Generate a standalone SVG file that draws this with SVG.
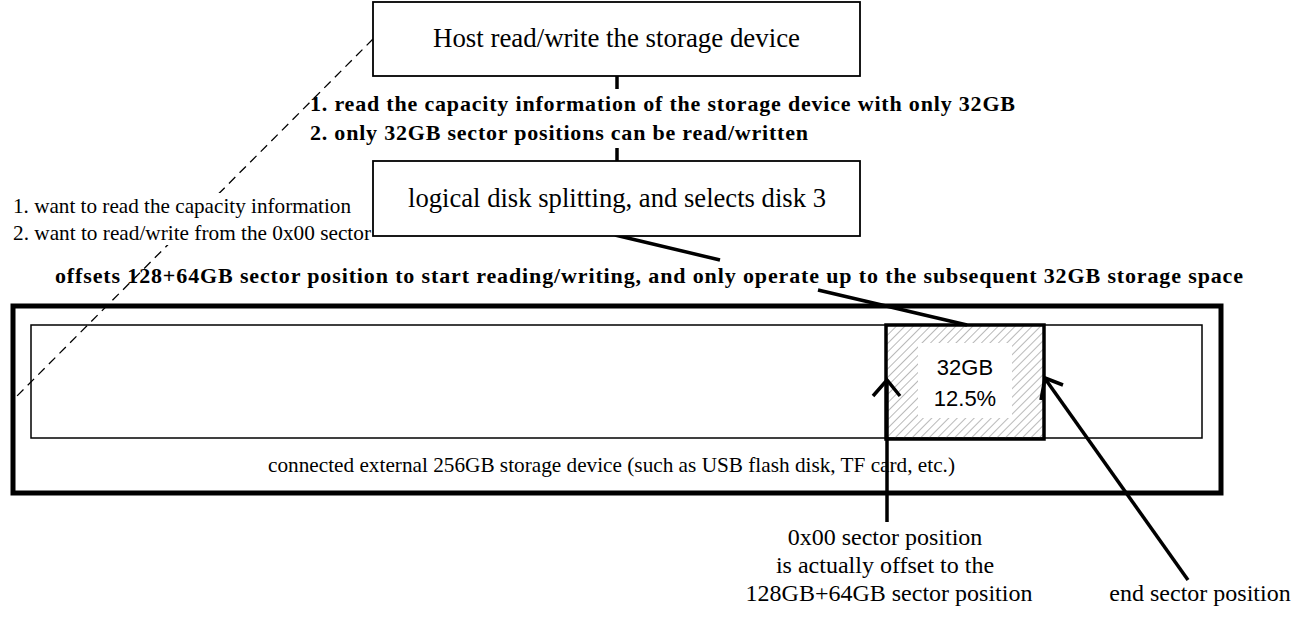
<svg xmlns="http://www.w3.org/2000/svg" width="1303" height="620" viewBox="0 0 1303 620">
<defs>
<pattern id="hatch" width="6" height="6" patternUnits="userSpaceOnUse" patternTransform="rotate(45)">
<line x1="0" y1="0" x2="0" y2="6" stroke="#8a8a8a" stroke-width="1.2"/>
</pattern>
<style>
.box{fill:#fff;stroke:#000;stroke-width:1.8}
.serif{font-family:"Liberation Serif","Times New Roman",serif;fill:#000}
.bold{font-family:"Liberation Serif","Times New Roman",serif;font-weight:bold;font-size:22px;fill:#000}
.sans{font-family:"Liberation Sans",Arial,sans-serif;fill:#000}
.conn{stroke:#000;fill:none;stroke-width:3.5}
</style>
</defs>
<rect width="1303" height="620" fill="#fff"/>

<g id="connectors">
<line x1="373" y1="39" x2="17" y2="396" stroke="#000" stroke-width="1.3" stroke-dasharray="9,6"/>
<line class="conn" x1="617" y1="76" x2="617" y2="89"/>
<line class="conn" x1="617" y1="148" x2="617" y2="161"/>
<line class="conn" x1="615" y1="235" x2="720" y2="260"/>
<line class="conn" x1="818" y1="290" x2="967" y2="325"/>
</g>

<g id="left-note">
<rect x="8" y="193" width="364" height="52" fill="#fff"/>
<text class="serif" font-size="21" x="13" y="213" textLength="338" lengthAdjust="spacingAndGlyphs">1. want to read the capacity information</text>
<text class="serif" font-size="21" x="13" y="240" textLength="358" lengthAdjust="spacingAndGlyphs">2. want to read/write from the 0x00 sector</text>
</g>

<g id="host">
<rect class="box" x="373" y="2" width="487" height="74"/>
<text class="serif" font-size="27" x="433" y="47" textLength="367" lengthAdjust="spacingAndGlyphs">Host read/write the storage device</text>
</g>

<g id="host-label">
<text class="bold" x="310" y="111" textLength="705" lengthAdjust="spacing">1. read the capacity information of the storage device with only 32GB</text>
<text class="bold" x="310" y="140" textLength="498" lengthAdjust="spacing">2. only 32GB sector positions can be read/written</text>
</g>

<g id="logical">
<rect class="box" x="373" y="161" width="487" height="75"/>
<text class="serif" font-size="27" x="408" y="207" textLength="418" lengthAdjust="spacingAndGlyphs">logical disk splitting, and selects disk 3</text>
</g>

<g id="offset-label">
<text class="bold" x="55" y="283" textLength="1188" lengthAdjust="spacing">offsets 128+64GB sector position to start reading/writing, and only operate up to the subsequent 32GB storage space</text>
</g>

<g id="device">
<rect x="13" y="306" width="1208" height="187" fill="none" stroke="#000" stroke-width="5"/>
<rect x="31" y="325" width="1171" height="113" fill="none" stroke="#000" stroke-width="1.5"/>
<text class="serif" font-size="21" x="268" y="472" textLength="687" lengthAdjust="spacingAndGlyphs">connected external 256GB storage device (such as USB flash disk, TF card, etc.)</text>
</g>

<g id="disk3">
<rect x="886" y="325" width="158" height="114" fill="url(#hatch)" stroke="#000" stroke-width="3.5"/>
<rect x="918" y="343" width="94" height="75" fill="#fff"/>
<text class="sans" font-size="22" x="965" y="375" text-anchor="middle">32GB</text>
<text class="sans" font-size="22" x="965" y="406" text-anchor="middle">12.5%</text>
</g>

<g id="start-arrow">
<line class="conn" x1="887" y1="522" x2="887" y2="381"/>
<polyline class="conn" points="873,396 887,380 900,396"/>
<text class="serif" font-size="24" x="885" y="545" text-anchor="middle">0x00 sector position</text>
<text class="serif" font-size="24" x="885" y="573" text-anchor="middle">is actually offset to the</text>
<text class="serif" font-size="24" x="889" y="601" text-anchor="middle">128GB+64GB sector position</text>
</g>

<g id="end-arrow">
<line class="conn" x1="1188" y1="580" x2="1046" y2="380"/>
<polyline class="conn" points="1063,385 1045,378 1041,400"/>
<text class="serif" font-size="24" x="1200" y="601" text-anchor="middle">end sector position</text>
</g>
</svg>
